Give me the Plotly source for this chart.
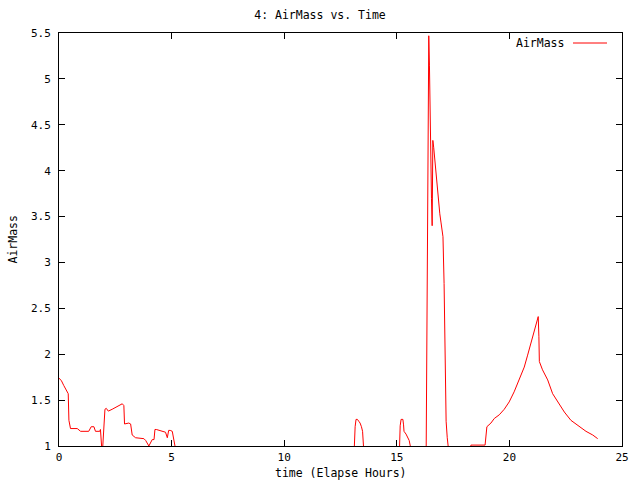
import plotly.graph_objects as go

# Elapsed time (hours) and air mass values.
# Values of 0 represent periods when the object is below the plotted range.
time_hours = [
    0.00, 0.11, 0.21, 0.32, 0.41, 0.44, 0.51, 0.81, 0.96, 1.32, 1.43, 1.55, 1.62, 1.81, 1.84,
    1.92, 2.04, 2.10, 2.19, 2.36, 2.59, 2.81, 2.88, 2.91, 3.10, 3.18, 3.25, 3.40, 3.77, 3.85,
    3.99, 4.14, 4.22, 4.26, 4.32, 4.51, 4.73, 4.81, 4.87, 4.94, 5.03, 5.15,
    5.25, 12.95,
    13.10, 13.15, 13.19, 13.25, 13.31, 13.37, 13.43, 13.48, 13.52,
    13.60, 15.00,
    15.10, 15.15, 15.19, 15.27, 15.30, 15.32, 15.41, 15.48, 15.55, 15.60,
    15.70, 16.28,
    16.33, 16.37, 16.42, 16.45, 16.48, 16.51, 16.54, 16.57, 16.60, 16.64, 16.69, 16.73, 16.78,
    16.82, 16.87, 16.91, 16.96, 17.00, 17.05, 17.10, 17.15, 17.19, 17.24, 17.28,
    17.33, 18.26,
    18.29, 18.92, 19.00, 19.18, 19.33, 19.55, 19.77, 19.99, 20.21, 20.44, 20.66, 20.81, 20.96,
    21.10, 21.22, 21.28, 21.31, 21.33, 21.47, 21.70, 21.92, 22.14, 22.44, 22.73, 23.03, 23.40,
    23.70, 23.92,
]
air_mass = [
    1.74, 1.71, 1.66, 1.60, 1.57, 1.28, 1.19, 1.19, 1.16, 1.16, 1.21, 1.21, 1.16, 1.16, 1.18,
    0.90, 1.40, 1.41, 1.38, 1.40, 1.43, 1.46, 1.44, 1.24, 1.25, 1.24, 1.12, 1.09, 1.08, 1.06,
    1.00, 1.07, 1.07, 1.18, 1.18, 1.17, 1.15, 1.09, 1.17, 1.17, 1.16, 1.00,
    0.00, 0.00,
    1.00, 1.21, 1.29, 1.29, 1.27, 1.25, 1.21, 1.16, 1.00,
    0.00, 0.00,
    1.00, 1.22, 1.29, 1.29, 1.23, 1.16, 1.13, 1.10, 1.06, 1.00,
    0.00, 0.00,
    2.12, 4.34, 5.47, 5.15, 4.51, 3.99, 3.70, 3.40, 4.33, 4.25, 4.11, 3.98, 3.86,
    3.75, 3.64, 3.53, 3.44, 3.36, 3.28, 2.77, 1.83, 1.27, 1.09, 1.00,
    0.00, 0.00,
    1.01, 1.01, 1.21, 1.25, 1.30, 1.34, 1.40, 1.48, 1.59, 1.72, 1.86, 1.99, 2.13,
    2.26, 2.37, 2.41, 2.19, 1.92, 1.83, 1.72, 1.57, 1.48, 1.37, 1.28, 1.23, 1.16,
    1.12, 1.08,
]

x_ticks = [0, 5, 10, 15, 20, 25]
y_ticks = [1, 1.5, 2, 2.5, 3, 3.5, 4, 4.5, 5, 5.5]
y_tick_labels = ["1", "1.5", "2", "2.5", "3", "3.5", "4", "4.5", "5", "5.5"]

FONT = "DejaVu Sans Mono"
W, H = 640, 480
ML, MR, MT, MB = 59, 18, 33, 34
PW, PH = W - ML - MR, H - MT - MB

fig = go.Figure()
fig.add_trace(go.Scatter(
    x=time_hours, y=air_mass, mode="lines",
    line=dict(color="#ff0000", width=1),
    name="AirMass", showlegend=False,
))

axis_common = dict(
    showline=True, linecolor="black", linewidth=1, mirror="ticks",
    ticks="inside", ticklen=6, tickwidth=1, tickcolor="black",
    showgrid=False, zeroline=False, automargin=False,
    tickfont=dict(family=FONT, size=11, color="black"),
)

fig.update_layout(
    width=W, height=H,
    margin=dict(l=ML, r=MR, t=MT, b=MB, autoexpand=False),
    paper_bgcolor="white", plot_bgcolor="white",
    title=dict(text="4: AirMass vs. Time", x=0.5, xanchor="center",
               y=1 - 15 / H, yanchor="middle",
               font=dict(family=FONT, size=11.5, color="black")),
    xaxis=dict(range=[0, 25], tickvals=x_ticks, ticklabelstandoff=1, **axis_common),
    yaxis=dict(range=[1, 5.5], tickvals=y_ticks, ticktext=y_tick_labels,
               ticklabelstandoff=5, **axis_common),
    showlegend=False,
)

# Axis titles
fig.add_annotation(
    text="time (Elapse Hours)", xref="paper", yref="paper", x=0.5, y=0,
    xanchor="center", yanchor="middle", yshift=-(473 - (H - MB)), showarrow=False,
    font=dict(family=FONT, size=11.5, color="black"),
)
fig.add_annotation(
    text="AirMass", xref="paper", yref="paper", x=0, y=0.5,
    xanchor="center", yanchor="middle", xshift=-(ML - 12), textangle=-90, showarrow=False,
    font=dict(family=FONT, size=11.5, color="black"),
)

# Legend-like key (text followed by a line sample), gnuplot style
key_y = (H - MB - 43) / PH
fig.add_annotation(
    text="AirMass", xref="paper", yref="paper",
    x=(566 - ML) / PW, y=key_y,
    xanchor="right", yanchor="middle", showarrow=False,
    font=dict(family=FONT, size=11.5, color="black"),
)
fig.add_shape(
    type="line", xref="paper", yref="paper",
    x0=(573 - ML) / PW, x1=(607 - ML) / PW, y0=key_y, y1=key_y,
    line=dict(color="#ff0000", width=1),
)

fig.write_html(
    "out.html",
    config={"displayModeBar": False},
    post_script="document.body.style.margin='0';document.body.style.overflow='hidden';",
)
